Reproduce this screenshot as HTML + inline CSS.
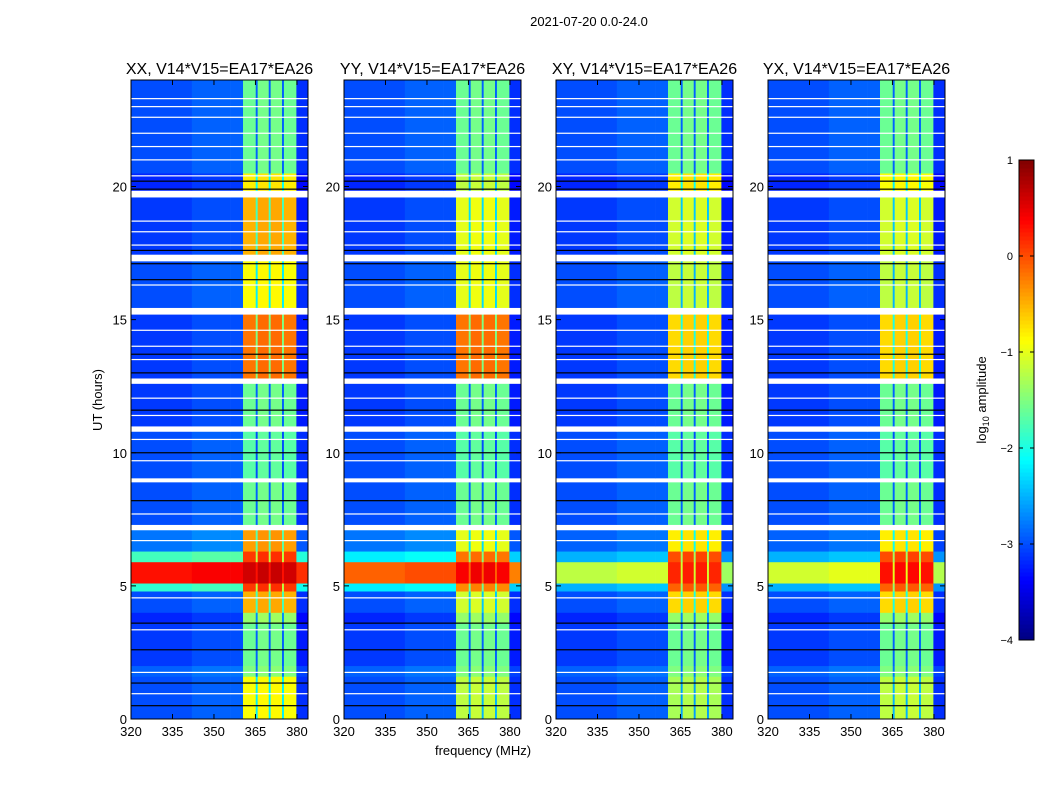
<!DOCTYPE html>
<html><head><meta charset="utf-8">
<style>
html,body{margin:0;padding:0;background:#fff;}
svg{display:block;font-family:"Liberation Sans","DejaVu Sans",sans-serif;}
</style></head>
<body>
<svg id="fig" width="1050" height="800" viewBox="0 0 1050 800"></svg>
<script>
// ---- data ----
const panelTitles = ["XX, V14*V15=EA17*EA26","YY, V14*V15=EA17*EA26","XY, V14*V15=EA17*EA26","YX, V14*V15=EA17*EA26"];
const rowEdges = [0,1.6,2.0,3.6,4.0,4.8,5.1,5.9,6.3,7.1,7.3,8.9,9.05,10.8,11.0,12.6,12.8,15.2,15.45,17.2,17.45,19.6,19.85,20.5,24];
const bgXX = [-3.0,-2.9,-3.1,-3.2,-3.0,-1.9,0.3,-1.8,-2.8,null,-3.0,null,-3.0,null,-3.1,null,-3.1,null,-3.0,null,-3.1,null,-3.2,-3.0];
const bgYY = [-3.0,-2.9,-3.1,-3.2,-3.0,-2.2,-0.1,-2.2,-2.8,null,-3.0,null,-3.0,null,-3.1,null,-3.1,null,-3.0,null,-3.1,null,-3.2,-3.0];
const bgXY = [-3.0,-2.9,-3.1,-3.2,-3.0,-2.5,-1.2,-2.5,-2.9,null,-3.0,null,-3.0,null,-3.1,null,-3.1,null,-3.0,null,-3.1,null,-3.2,-3.0];
const bgYX = [-3.0,-2.9,-3.1,-3.2,-3.0,-2.5,-1.1,-2.5,-2.9,null,-3.0,null,-3.0,null,-3.1,null,-3.1,null,-3.0,null,-3.1,null,-3.2,-3.0];
const bandXX = [-0.9,-1.5,-1.6,-1.4,-0.5,0.1,0.6,0.1,-0.4,null,-1.6,null,-1.7,null,-1.6,null,-0.2,null,-0.9,null,-0.5,null,-0.8,-1.6];
const bandYY = [-1.2,-1.5,-1.6,-1.4,-1.1,-0.3,0.4,-0.2,-1.0,null,-1.6,null,-1.7,null,-1.6,null,-0.2,null,-1.0,null,-1.0,null,-1.2,-1.6];
const bandXY = [-1.3,-1.5,-1.6,-1.4,-0.7,-0.1,0.2,0.0,-0.8,null,-1.6,null,-1.7,null,-1.6,null,-0.7,null,-1.2,null,-1.1,null,-0.8,-1.6];
const bandYX = [-1.2,-1.5,-1.6,-1.4,-0.7,-0.1,0.3,0.0,-0.8,null,-1.6,null,-1.7,null,-1.6,null,-0.7,null,-1.2,null,-1.1,null,-0.9,-1.6];
const colEdges = [320,342,356,360.5,365.1,365.8,369.8,370.5,374.6,375.3,379.8,384];
const colKind = ["bg","bg","bg","band","gap","band","gap","band","gap","band","bg"];
const colOffset = [0,0.1,0.1,0,-1.3,0.05,-1.3,0.05,-1.3,0,-0.15];
const whiteLineHours = [23.3,23.0,22.6,22.0,21.5,21.0,20.4,18.7,18.3,17.8,16.3,14.6,14.0,13.5,12.05,11.4,10.5,9.7,7.7,6.7,4.55,3.35,1.75,0.95];
const blackLineHours = [20.2,19.9,17.6,17.1,16.5,13.7,13.0,11.6,10.0,8.2,3.6,2.6,1.35,0.5];
const xTicks = [320,335,350,365,380];
const yTicks = [0,5,10,15,20];
const cbTicks = [1,0,-1,-2,-3,-4];

const bgSets = [bgXX,bgYY,bgXY,bgYX];
const bandSets = [bandXX,bandYY,bandXY,bandYX];
const panelLefts = [131,344,556,768];
const PW = 177, PT = 80, PB = 719;
const NS = "http://www.w3.org/2000/svg";
const svg = document.getElementById("fig");
function mk(tag, attrs, parent){ const e=document.createElementNS(NS,tag); for(const k in attrs) e.setAttribute(k,attrs[k]); (parent||svg).appendChild(e); return e; }
function jet(v){ let t=(v+4)/5; t=Math.max(0,Math.min(1,t));
  const c=x=>Math.round(255*Math.max(0,Math.min(1,1.5-Math.abs(x))));
  return `rgb(${c(4*t-3)},${c(4*t-2)},${c(4*t-1)})`; }

mk("text",{x:589,y:26,"text-anchor":"middle","font-size":13}).textContent="2021-07-20 0.0-24.0";



for(let p=0;p<4;p++){
  const L=panelLefts[p];
  const xs=f=>L+(f-320)/(384-320)*PW;
  const ys=h=>PB-(h/24)*(PB-PT);
  const g=mk("g",{});
  
  
  const bg=bgSets[p], band=bandSets[p];
  for(let r=0;r<rowEdges.length-1;r++){
    const y0=ys(rowEdges[r+1]), y1=ys(rowEdges[r]);
    for(let c=0;c<colEdges.length-1;c++){
      let v;
      if(bg[r]===null){ v=null; }
      else if(colKind[c]==="bg") v=bg[r]+colOffset[c];
      else if(colKind[c]==="band") v=band[r]+colOffset[c];
      else v=Math.max(band[r]+colOffset[c], bg[r]);
      const cell=mk("rect",{x:xs(colEdges[c]),y:y0,width:xs(colEdges[c+1])-xs(colEdges[c])+0.3,height:y1-y0+0.3,fill:v===null?"#fff":jet(v)},g);
      
      
    }
  }
  for(const h of whiteLineHours){ const l=mk("rect",{x:L,y:ys(h)-0.6,width:PW,height:1.2,fill:"#fff"},g);
      }
  for(const h of blackLineHours){ const l=mk("rect",{x:L,y:ys(h)-0.6,width:PW,height:1.2,fill:"#000"},g);
      }
  const fr=mk("rect",{x:L,y:PT,width:PW,height:PB-PT,fill:"none",stroke:"#000","stroke-width":1},g);
   
  for(const t of xTicks){ const x=xs(t);
    mk("line",{x1:x,y1:PB,x2:x,y2:PB-5,stroke:"#000"},g); mk("line",{x1:x,y1:PT,x2:x,y2:PT+5,stroke:"#000"},g);
    const tl=mk("text",{x:x,y:PB+17,"text-anchor":"middle","font-size":13},g); tl.textContent=t;
      }
  for(const t of yTicks){ const y=ys(t);
    mk("line",{x1:L,y1:y,x2:L+5,y2:y,stroke:"#000"},g); mk("line",{x1:L+PW,y1:y,x2:L+PW-5,y2:y,stroke:"#000"},g);
    const tl=mk("text",{x:L-4,y:y+5,"text-anchor":"end","font-size":13},g); tl.textContent=t;
      }
  const tt=mk("text",{x:L+PW/2,y:74,"text-anchor":"middle","font-size":16},g); tt.textContent=panelTitles[p];
   
}
const xl=mk("text",{x:483,y:755,"text-anchor":"middle","font-size":13}); xl.textContent="frequency (MHz)";
 
const yl=mk("text",{x:0,y:0,"text-anchor":"middle","font-size":13,transform:"translate(102,400) rotate(-90)"}); yl.textContent="UT (hours)";
 

// colorbar
const cb=mk("g",{});
 
const CT=160, CB=640, CL=1019, CW=15;
const cy=v=>CB-(v+4)/5*(CB-CT);
for(let i=0;i<120;i++){ const v0=-4+5*i/120, v1=-4+5*(i+1)/120;
  mk("rect",{x:CL,y:cy(v1),width:CW,height:cy(v0)-cy(v1)+0.5,fill:jet((v0+v1)/2)},cb); }
mk("rect",{x:CL,y:CT,width:CW,height:CB-CT,fill:"none",stroke:"#000"},cb);
for(const t of cbTicks){ const y=cy(t);
  mk("line",{x1:CL,y1:y,x2:CL+4,y2:y,stroke:"#000"},cb); mk("line",{x1:CL+CW,y1:y,x2:CL+CW-4,y2:y,stroke:"#000"},cb);
  const tl=mk("text",{x:1013,y:y+4,"text-anchor":"end","font-size":11},cb); tl.textContent=t<0?"\u2212"+(-t):t;
    }
const cl=mk("text",{x:0,y:0,"text-anchor":"middle","font-size":13,transform:"translate(986,400) rotate(-90)"});
cl.innerHTML='log<tspan font-size="9" dy="3">10</tspan><tspan dy="-3"> amplitude</tspan>';
 
</script>
</body></html>
